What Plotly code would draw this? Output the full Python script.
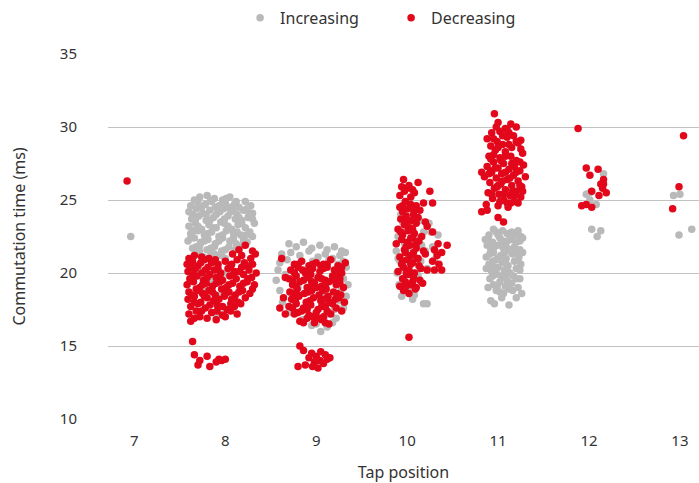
"""Commutation time vs tap position, strip plot for increasing / decreasing taps."""

import plotly.graph_objects as go

GREY = "#b9b9b9"
RED = "#e2071b"
TEXT = "#333333"
GRID = "#c2c2c2"

# (jittered tap position, commutation time in ms)
inc_7 = [(6.96, 22.5)]
inc_8 = [
    (7.72, 25.2), (7.80, 25.3), (7.88, 25.1), (7.97, 25.0), (8.05, 25.2), (8.22, 24.9),
    (7.62, 24.6), (7.70, 24.8), (7.78, 24.7), (7.85, 24.9), (7.93, 24.6), (8.00, 24.8),
    (8.10, 24.7), (8.15, 24.5), (8.28, 24.6),
    (7.60, 24.2), (7.68, 24.4), (7.75, 24.1), (7.83, 24.3), (7.90, 24.0), (7.98, 24.4),
    (8.06, 24.2), (8.13, 24.0), (8.20, 24.3), (8.30, 24.1),
    (7.63, 23.7), (7.71, 23.9), (7.79, 23.6), (7.87, 23.8), (7.95, 23.5), (8.03, 23.9),
    (8.11, 23.7), (8.18, 23.6), (8.25, 23.8),
    (7.60, 23.2), (7.67, 23.4), (7.74, 23.0), (7.82, 23.3), (7.90, 23.1), (7.99, 23.4),
    (8.07, 23.0), (8.14, 23.3), (8.22, 23.1), (8.32, 23.4),
    (7.62, 22.7), (7.70, 22.9), (7.77, 22.6), (7.85, 22.8), (7.93, 22.5), (8.01, 22.9),
    (8.09, 22.7), (8.17, 22.6), (8.27, 22.8),
    (7.59, 22.2), (7.66, 22.4), (7.73, 22.1), (7.81, 22.3), (7.89, 22.0), (7.97, 22.4),
    (8.05, 22.2), (8.12, 22.0), (8.20, 22.3), (8.30, 22.5),
    (7.64, 21.7), (7.72, 21.9), (7.80, 21.6), (7.88, 21.8), (7.96, 21.5), (8.04, 21.8),
    (8.11, 21.6), (8.19, 21.9),
    (7.68, 21.3), (7.76, 21.1), (7.84, 21.4), (7.92, 21.2), (8.00, 21.0),
    (7.66, 25.0), (7.84, 25.0), (8.01, 25.1), (8.12, 24.9), (7.74, 24.5), (7.89, 24.5),
    (8.04, 24.5), (8.24, 24.4), (7.64, 24.0), (7.79, 24.0), (7.94, 24.2), (8.09, 24.4),
    (8.26, 24.1), (7.67, 23.6), (7.83, 23.6), (7.99, 23.7), (8.15, 23.8), (8.30, 23.7),
    (7.70, 23.2), (7.86, 23.1), (8.03, 23.2), (8.18, 23.4), (7.65, 22.9), (7.81, 22.7),
    (7.97, 22.6), (8.13, 22.8), (8.23, 22.6), (7.62, 22.4), (7.77, 22.2), (7.93, 22.2),
    (8.09, 22.4), (8.24, 22.1), (7.68, 21.8), (7.84, 21.7), (8.00, 21.6), (8.15, 21.7),
    (7.72, 21.5), (7.88, 21.3), (7.96, 21.2),
    (7.70, 20.2), (7.85, 19.5), (7.95, 18.5), (8.05, 17.5), (7.90, 17.0), (8.10, 18.0),
    (8.20, 20.5), (7.80, 18.8), (7.98, 17.2), (8.00, 20.0),
]
inc_9 = [
    (8.70, 22.0), (8.78, 21.8), (8.86, 22.1), (8.95, 21.7), (9.04, 21.9), (9.12, 21.6),
    (9.20, 21.8), (9.28, 21.5),
    (8.62, 21.3), (8.72, 21.4), (8.82, 21.2), (8.92, 21.5), (9.02, 21.1), (9.10, 21.3),
    (9.18, 21.0), (9.26, 21.2), (9.32, 21.4),
    (8.60, 20.7), (8.68, 20.9), (9.24, 20.6), (9.30, 20.8), (8.96, 20.8), (9.14, 20.9),
    (8.58, 20.2), (9.27, 20.1), (9.33, 20.4), (8.66, 19.9),
    (8.56, 19.5), (9.30, 19.6), (9.35, 19.2),
    (8.60, 18.8), (9.28, 18.9), (9.33, 18.4),
    (8.63, 18.0), (9.26, 18.1), (9.20, 17.5), (9.30, 17.6),
    (8.70, 17.3), (9.10, 17.1), (9.22, 16.9),
    (8.85, 16.8), (9.00, 16.5), (9.12, 16.3), (9.05, 16.0), (8.95, 16.4), (9.18, 16.6),
    (8.80, 19.0), (9.00, 19.5), (9.10, 18.5), (8.90, 18.0),
]
inc_10 = [
    (9.88, 21.5), (9.90, 22.5), (9.92, 20.8), (9.95, 23.5), (10.00, 23.0), (10.10, 22.3),
    (10.18, 22.8), (10.26, 22.8), (10.34, 22.6), (10.20, 21.5), (10.28, 21.8), (9.89, 20.0),
    (10.15, 20.8), (10.22, 20.3), (10.30, 20.9), (9.91, 19.2), (10.08, 18.5), (10.06, 18.2),
    (10.18, 17.9), (10.22, 17.9), (9.94, 18.4), (10.12, 19.8), (10.00, 21.7), (10.05, 21.0),
    (9.97, 22.0), (10.14, 23.6), (9.93, 24.0), (10.24, 23.4), (10.02, 19.0), (10.10, 20.0),
    (9.90, 21.0), (10.16, 21.9), (10.32, 21.4),
]
inc_11 = [
    (10.95, 23.0), (11.05, 22.9), (11.15, 22.8), (11.22, 22.9), (11.00, 22.6), (11.10, 22.7),
    (11.25, 22.5), (10.90, 22.6),
    (10.86, 22.3), (10.94, 22.1), (11.02, 22.4), (11.08, 22.0), (11.14, 22.3), (11.20, 22.1),
    (11.27, 22.4),
    (10.92, 21.6), (11.00, 21.9), (11.06, 21.7), (11.12, 21.5), (11.18, 21.8), (11.24, 21.6),
    (10.88, 21.9),
    (10.87, 21.1), (10.95, 21.4), (11.03, 21.2), (11.09, 21.0), (11.16, 21.3), (11.23, 21.1),
    (11.27, 21.4),
    (10.90, 20.6), (10.98, 20.9), (11.05, 20.7), (11.11, 20.5), (11.18, 20.8), (11.25, 20.6),
    (10.93, 20.1), (11.00, 20.4), (11.07, 20.2), (11.13, 20.0), (11.20, 20.3), (10.87, 20.3),
    (10.91, 19.6), (10.97, 19.9), (11.04, 19.7), (11.10, 19.5), (11.17, 19.8), (11.24, 19.6),
    (10.95, 19.2), (11.02, 19.4), (11.08, 19.1), (11.15, 19.3), (11.22, 19.0),
    (10.98, 18.8), (11.06, 18.6), (11.12, 18.9), (11.26, 18.6),
    (10.92, 18.1), (10.96, 17.9), (11.12, 17.8), (11.20, 18.3),
    (11.00, 21.0), (11.10, 22.2), (10.98, 20.0), (11.14, 21.6), (11.06, 19.9), (11.20, 22.6),
    (10.98, 22.8), (11.18, 22.6), (10.90, 22.2), (11.05, 22.2), (11.24, 22.2), (10.96, 21.8),
    (11.09, 21.8), (11.21, 21.4), (10.91, 21.3), (11.06, 21.3), (10.94, 20.8), (11.08, 20.8),
    (11.22, 20.9), (10.96, 20.4), (11.10, 20.3), (11.24, 20.2), (10.94, 19.8), (11.08, 19.7),
    (11.20, 19.6), (10.99, 19.1), (11.12, 19.2), (11.02, 18.7), (11.16, 18.8), (11.04, 18.3),
    (10.89, 19.0),
]
inc_12 = [
    (12.16, 26.8), (11.97, 25.4), (12.01, 25.5), (12.01, 25.0), (12.08, 24.7),
    (12.03, 23.0), (12.13, 22.9), (12.09, 22.5),
]
inc_13 = [(12.93, 25.3), (13.00, 25.4), (12.99, 22.6), (13.13, 23.0)]

dec_7 = [(6.92, 26.3)]
dec_8 = [
    (8.22, 21.9), (8.30, 21.5), (8.15, 21.6),
    (7.60, 21.0), (7.66, 21.2), (7.74, 21.1), (7.82, 21.0), (8.08, 21.3), (8.18, 21.2),
    (8.28, 21.0), (8.33, 21.3),
    (7.58, 20.6), (7.64, 20.8), (7.70, 20.5), (7.77, 20.9), (7.85, 20.7), (7.92, 20.6),
    (8.00, 20.8), (8.06, 20.5), (8.13, 20.9), (8.21, 20.7), (8.30, 20.6),
    (7.59, 20.1), (7.67, 20.3), (7.74, 20.0), (7.81, 20.4), (7.88, 20.2), (7.95, 20.0),
    (8.03, 20.3), (8.10, 20.1), (8.18, 20.4), (8.26, 20.2), (8.34, 20.0),
    (7.61, 19.6), (7.69, 19.8), (7.76, 19.5), (7.83, 19.9), (7.90, 19.7), (7.97, 19.5),
    (8.05, 19.8), (8.12, 19.6), (8.20, 19.9), (8.29, 19.7),
    (7.58, 19.2), (7.65, 19.4), (7.72, 19.0), (7.79, 19.3), (7.86, 19.1), (7.94, 19.4),
    (8.01, 19.0), (8.08, 19.3), (8.16, 19.1), (8.24, 19.4), (8.32, 19.2),
    (7.60, 18.7), (7.68, 18.9), (7.75, 18.6), (7.82, 18.8), (7.89, 18.5), (7.96, 18.9),
    (8.04, 18.7), (8.11, 18.5), (8.19, 18.8), (8.27, 18.6),
    (7.59, 18.2), (7.66, 18.4), (7.73, 18.0), (7.80, 18.3), (7.87, 18.1), (7.99, 18.4),
    (8.07, 18.2), (8.14, 18.0), (8.22, 18.3),
    (7.62, 17.7), (7.70, 17.9), (7.78, 17.6), (7.91, 17.8), (8.02, 17.5), (8.10, 17.7),
    (8.17, 17.9),
    (7.60, 17.2), (7.68, 17.4), (7.85, 17.3), (7.97, 17.1), (8.06, 17.4), (8.13, 17.2),
    (7.62, 16.7), (7.80, 16.9), (7.90, 16.8),
    (7.63, 20.4), (7.78, 20.2), (7.92, 20.3), (8.07, 20.6), (8.24, 20.5), (7.73, 20.7),
    (7.89, 20.9), (8.15, 20.1), (7.65, 19.9), (7.80, 19.7), (7.94, 19.8), (8.09, 19.9),
    (8.25, 19.6), (7.62, 19.5), (7.75, 19.2), (7.90, 19.3), (8.04, 19.2), (8.20, 19.3),
    (7.70, 18.8), (7.86, 18.7), (8.00, 18.6), (8.15, 18.7), (8.30, 18.9), (7.63, 18.5),
    (7.77, 18.4), (7.93, 18.2), (8.10, 18.3), (7.66, 18.0), (7.83, 17.8), (7.97, 17.7),
    (8.06, 17.9), (7.74, 17.4), (7.91, 17.4), (8.00, 17.0), (7.72, 17.0), (7.66, 16.9),
    (7.64, 15.3), (7.66, 14.4), (7.72, 14.0), (7.70, 13.7), (7.80, 14.3), (7.83, 13.6),
    (7.90, 13.9), (7.96, 14.0), (7.93, 14.1), (8.00, 14.1),
]
dec_9 = [
    (8.62, 21.0), (8.66, 19.7), (8.66, 17.2), (8.60, 17.6), (8.64, 18.3),
    (8.76, 20.6), (8.84, 20.8), (8.92, 20.5), (9.00, 20.7), (9.08, 20.6), (9.16, 20.9),
    (9.24, 20.5), (9.32, 20.7),
    (8.72, 20.2), (8.80, 20.4), (8.88, 20.0), (8.96, 20.3), (9.04, 20.1), (9.12, 20.4),
    (9.20, 20.2), (9.28, 20.0),
    (8.70, 19.6), (8.78, 19.8), (8.86, 19.5), (8.94, 19.9), (9.02, 19.7), (9.10, 19.5),
    (9.18, 19.8), (9.26, 19.6),
    (8.74, 19.2), (8.82, 19.4), (8.90, 19.0), (8.98, 19.3), (9.06, 19.1), (9.14, 19.4),
    (9.22, 19.2), (9.30, 19.0),
    (8.71, 18.7), (8.79, 18.9), (8.87, 18.6), (8.95, 18.8), (9.03, 18.5), (9.11, 18.9),
    (9.19, 18.7), (9.27, 18.5),
    (8.73, 18.2), (8.81, 18.4), (8.89, 18.0), (8.97, 18.3), (9.05, 18.1), (9.13, 18.4),
    (9.21, 18.2), (9.31, 18.0),
    (8.70, 17.7), (8.78, 17.9), (8.86, 17.6), (8.94, 17.8), (9.02, 17.5), (9.10, 17.7),
    (9.18, 17.9), (9.28, 17.4),
    (8.76, 17.2), (8.84, 17.4), (8.92, 17.1), (9.00, 17.3), (9.08, 17.0), (9.16, 17.2),
    (8.82, 16.7), (8.90, 16.9), (8.98, 16.6), (9.06, 16.8), (9.14, 16.5),
    (8.85, 20.2), (9.00, 19.0), (9.15, 18.0), (8.90, 17.5), (9.05, 20.5), (8.95, 19.4),
    (9.20, 19.5), (8.80, 18.5),
    (8.80, 20.6), (8.96, 20.6), (9.12, 20.6), (9.28, 20.4), (8.76, 20.0), (8.92, 20.2),
    (9.08, 20.3), (9.24, 20.1), (8.74, 19.5), (8.90, 19.7), (9.06, 19.6), (9.22, 19.7),
    (8.78, 19.1), (8.94, 19.0), (9.10, 19.2), (9.26, 19.3), (8.75, 18.6), (8.91, 18.7),
    (9.07, 18.8), (9.23, 18.6), (8.77, 18.1), (8.93, 18.1), (9.09, 18.2), (9.25, 18.3),
    (8.74, 17.6), (8.90, 17.8), (9.06, 17.7), (9.22, 17.6), (8.80, 17.3), (8.96, 17.0),
    (9.12, 17.4), (8.86, 16.6), (9.02, 16.9), (9.10, 16.6),
    (8.82, 15.0), (8.86, 14.7), (8.95, 14.5), (9.00, 14.3), (9.05, 14.6), (9.10, 14.4),
    (8.92, 14.2), (8.98, 13.9), (9.04, 14.0), (9.12, 14.1), (8.80, 13.6), (8.88, 13.7),
    (8.96, 13.6), (9.08, 13.8), (9.15, 14.2), (9.02, 13.5),
]
dec_10 = [
    (9.96, 26.4), (10.12, 26.2), (9.94, 25.9), (10.00, 25.8), (10.06, 25.7), (10.02, 26.0),
    (10.25, 25.6), (9.92, 25.3), (10.08, 25.5),
    (9.98, 24.9), (10.04, 24.7), (10.10, 24.6), (9.92, 24.5), (10.18, 24.8), (10.28, 24.8),
    (9.95, 24.2), (10.01, 24.4), (10.07, 24.0), (10.14, 24.3),
    (9.93, 23.7), (9.99, 23.9), (10.05, 23.6), (10.12, 23.8), (10.20, 23.5),
    (9.90, 23.0), (9.97, 23.3), (10.03, 23.1), (10.10, 23.4), (10.22, 23.2),
    (9.95, 22.6), (10.01, 22.9), (10.08, 22.7), (10.16, 22.5), (10.28, 22.8),
    (9.88, 22.0), (9.94, 22.3), (10.00, 22.1), (10.06, 22.4), (10.13, 22.2), (10.34, 22.0),
    (9.97, 21.6), (10.03, 21.9), (10.10, 21.7), (10.18, 21.5), (10.30, 21.6), (10.44, 21.9),
    (9.92, 21.1), (9.98, 21.4), (10.04, 21.2), (10.11, 21.0), (10.20, 21.3), (10.38, 21.4),
    (10.33, 21.2),
    (9.94, 20.6), (10.00, 20.9), (10.06, 20.7), (10.13, 20.5), (10.28, 20.8), (10.35, 20.6),
    (9.90, 20.1), (9.96, 20.4), (10.02, 20.2), (10.08, 20.0), (10.15, 20.3), (10.22, 20.2),
    (10.30, 20.2), (10.38, 20.2),
    (9.95, 19.6), (10.01, 19.9), (10.07, 19.7), (10.14, 19.5),
    (9.92, 19.1), (9.98, 19.4), (10.04, 19.2), (10.10, 19.0), (10.17, 19.3),
    (9.96, 18.8), (10.02, 18.6), (10.09, 18.9),
    (9.97, 25.6), (10.04, 25.2), (9.95, 24.6), (10.08, 24.3), (9.99, 23.5), (10.06, 23.0),
    (9.93, 22.8), (10.04, 22.4), (9.99, 21.8), (10.07, 21.4), (9.95, 20.8), (10.04, 20.6),
    (9.99, 20.0), (10.06, 19.4), (9.98, 19.0), (10.12, 21.0), (10.10, 22.0),
    (10.02, 15.6),
]
dec_11 = [
    (10.96, 30.9), (11.14, 30.2), (11.20, 30.0), (11.08, 29.9), (10.93, 29.6), (11.02, 29.7),
    (11.17, 29.4), (10.88, 29.2), (11.10, 29.3), (10.99, 29.0), (11.25, 29.1), (11.05, 28.8),
    (10.92, 28.7), (11.15, 28.6), (11.22, 28.9), (10.97, 28.4), (11.08, 28.3), (11.27, 28.2),
    (10.90, 28.0), (11.02, 27.9), (11.14, 28.0), (11.20, 27.7), (10.95, 27.6), (11.06, 27.5),
    (11.28, 27.4), (10.88, 27.3), (11.00, 27.2), (11.12, 27.1), (11.24, 27.0), (10.93, 26.9),
    (11.04, 26.8), (11.17, 26.7), (11.30, 26.6), (10.98, 26.5), (11.10, 26.4), (11.22, 26.3),
    (10.85, 26.6), (10.91, 26.2), (11.03, 26.1), (11.15, 26.0), (11.26, 25.9), (10.96, 25.8),
    (11.08, 25.7), (11.20, 25.6), (10.89, 25.5), (11.01, 25.4), (11.13, 25.3), (11.25, 25.2),
    (10.94, 25.1), (11.06, 25.0), (11.18, 24.9), (10.87, 24.7), (11.00, 24.6), (11.11, 24.5),
    (11.22, 24.8), (10.82, 24.2), (10.88, 24.3), (10.82, 26.9),
    (11.00, 23.8), (11.06, 23.5),
    (11.00, 30.3), (11.12, 29.6), (10.95, 28.1), (11.18, 27.3), (11.05, 26.3), (10.99, 25.9),
    (11.10, 24.8), (11.16, 25.6), (11.03, 27.7), (10.92, 27.0), (11.24, 26.0),
    (10.98, 30.0), (11.10, 29.8), (11.05, 29.4), (11.20, 29.0), (10.95, 29.2), (11.12, 28.8),
    (11.00, 28.6), (11.25, 28.5), (11.08, 28.0), (10.92, 27.8), (11.15, 27.5), (11.24, 27.6),
    (10.97, 27.2), (11.08, 26.9), (11.20, 26.9), (10.90, 26.8), (11.13, 26.5), (11.00, 26.0),
    (11.18, 25.3), (11.06, 25.4), (10.93, 25.4), (11.14, 24.8), (11.02, 24.9), (11.27, 25.6),
]
dec_12 = [
    (11.88, 29.9), (11.97, 27.2), (12.01, 26.7), (12.10, 27.1), (12.16, 26.4), (12.13, 26.1),
    (12.16, 26.1), (12.15, 25.8), (12.19, 25.5), (12.03, 25.6), (12.11, 25.3),
    (11.92, 24.6), (11.97, 24.7), (12.03, 24.5),
]
dec_13 = [(13.04, 29.4), (12.99, 25.9), (12.92, 24.4)]

tap_ticks = [7, 8, 9, 10, 11, 12, 13]
time_ticks = [10, 15, 20, 25, 30, 35]

increasing = inc_7 + inc_8 + inc_9 + inc_10 + inc_11 + inc_12 + inc_13
decreasing = dec_7 + dec_8 + dec_9 + dec_10 + dec_11 + dec_12 + dec_13

fig = go.Figure()
for name, pts, color in [("Increasing", increasing, GREY), ("Decreasing", decreasing, RED)]:
    fig.add_trace(go.Scatter(
        x=[p[0] for p in pts],
        y=[p[1] for p in pts],
        mode="markers",
        name=name,
        marker=dict(color=color, size=7.5, line=dict(width=0)),
    ))

fig.update_layout(
    width=699, height=483,
    paper_bgcolor="white", plot_bgcolor="white",
    font=dict(family="Noto Sans, sans-serif", size=15, color=TEXT),
    margin=dict(l=108, r=0, t=54, b=64),
    legend=dict(
        orientation="h", x=0.479, xanchor="center", y=1.099, yanchor="middle",
        font=dict(size=16), itemwidth=30, traceorder="normal",
        entrywidth=106, entrywidthmode="pixels",
    ),
    xaxis=dict(
        range=[6.71, 13.21], tickvals=tap_ticks, showgrid=False, zeroline=False,
        showline=False, ticks="", ticklabelstandoff=11,
        title=dict(text="Tap position", font=dict(size=16), standoff=18),
    ),
    yaxis=dict(
        range=[10, 35], tickvals=time_ticks, showgrid=True, gridcolor=GRID, gridwidth=1.3,
        zeroline=False, showline=False, ticks="", ticklabelstandoff=30,
        title=dict(text="Commutation time (ms)", font=dict(size=16), standoff=30),
    ),
)

fig.write_html(
    "out.html",
    config={"displayModeBar": False},
    post_script="document.body.style.margin='0';",
)
